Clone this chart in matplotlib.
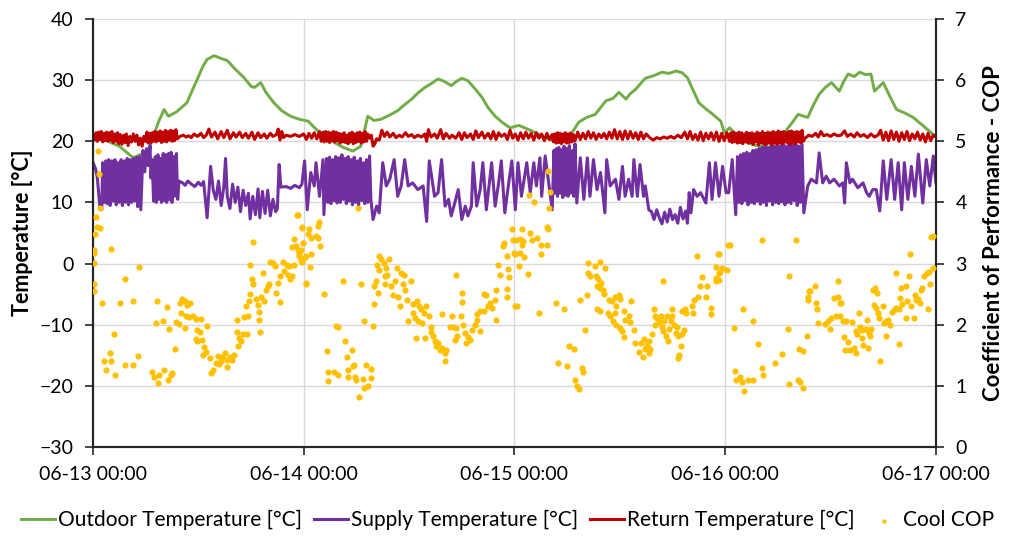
import matplotlib
matplotlib.use("Agg")
import matplotlib.pyplot as plt
import numpy as np

plt.rcParams['font.family'] = ['Lato', 'DejaVu Sans']

# x values are hours since 06-13 00:00
tick_hours = [0, 24, 48, 72, 96]
tick_labels = ['06-13 00:00', '06-14 00:00', '06-15 00:00', '06-16 00:00', '06-17 00:00']

outdoor = [
    (0, 21.1), (1, 20.6), (2, 19.8), (3, 19.2), (4, 18.0), (4.6, 17.3), (5.5, 17.9), (6.4, 18.7),
    (6.9, 20.9), (7.5, 23.3), (8.1, 25.2), (8.6, 24.1), (9.5, 24.8), (10.7, 26.3), (11.3, 28.3),
    (11.9, 30.2), (12.5, 32.2), (13.0, 33.4), (13.8, 34.0), (14.5, 33.6), (15.3, 33.2), (16.2, 31.8),
    (17.2, 30.4), (18.0, 29.0), (18.4, 28.8), (19.1, 29.6), (19.7, 28.0), (20.6, 26.3), (21.5, 25.0),
    (22.5, 24.1), (23.5, 23.6), (24.5, 23.3), (25.6, 21.7), (26.5, 20.8), (27.5, 19.8), (28.5, 19.0),
    (29.6, 18.4), (30.5, 19.2), (31.3, 24.1), (32.0, 23.4), (32.8, 23.6), (33.8, 24.3), (34.7, 25.0),
    (35.5, 26.0), (36.3, 26.9), (37.0, 27.9), (37.8, 28.8), (38.6, 29.5), (39.3, 30.2), (40.0, 29.8),
    (40.8, 29.1), (41.4, 29.8), (42.0, 30.3), (42.7, 29.9), (43.5, 28.6), (44.3, 27.2), (45.0, 25.5),
    (45.8, 24.1), (46.6, 23.1), (47.5, 22.2), (48.5, 22.6), (49.5, 22.0), (50.4, 21.4), (51.5, 20.6),
    (52.6, 20.0), (53.7, 20.6), (54.7, 21.7), (55.3, 23.1), (56.2, 23.9), (57.2, 24.4), (57.8, 25.5),
    (58.4, 26.6), (59.2, 27.0), (59.9, 28.0), (60.7, 26.9), (61.2, 27.8), (61.8, 28.5), (62.4, 29.5),
    (62.9, 30.3), (63.8, 30.7), (64.8, 31.3), (65.6, 31.1), (66.4, 31.5), (67.1, 31.2), (67.7, 30.4),
    (68.3, 28.5), (69.0, 26.3), (69.8, 25.3), (70.6, 24.4), (71.5, 23.3), (71.9, 21.4), (72.5, 22.2),
    (73.6, 20.6), (74.8, 19.6), (75.9, 19.2), (77.4, 19.8), (78.9, 21.7), (79.6, 23.0), (80.3, 24.4),
    (81.4, 23.9), (82.0, 25.8), (82.7, 27.7), (83.4, 28.8), (84.1, 29.6), (85.0, 28.2), (85.5, 29.8),
    (86.0, 31.0), (86.7, 30.6), (87.3, 31.3), (88.0, 30.9), (88.6, 31.0), (89.0, 28.2), (90.0, 29.6),
    (90.7, 27.5), (91.5, 25.2), (92.5, 24.6), (93.4, 23.9), (94.5, 22.6), (95.7, 21.1), (96, 20.8),
]

supply = [
    (0, 16.5), (0.3, 15.5), (0.5, 14), (0.8, 9), (1.0, 8.8),
    (1.1, 16.5), (1.25, 10), (1.45, 16.8), (1.6, 9.8), (1.8, 17), (1.95, 9.5), (2.15, 16.8), (2.3, 10.2),
    (2.5, 17), (2.65, 9.6), (2.85, 16.5), (3.0, 10), (3.2, 17), (3.35, 9.5), (3.55, 16.8), (3.7, 10),
    (3.9, 17.2), (4.05, 9.6), (4.25, 17), (4.4, 10), (4.6, 17.2), (4.75, 10.2), (4.95, 17.4), (5.1, 9.3),
    (5.3, 17.5), (5.45, 8.8), (5.7, 18.5), (5.9, 15), (6.1, 18.8), (6.3, 16), (6.5, 19.3), (6.6, 14),
    (6.75, 17), (6.9, 10.2),
    (7.1, 17.5), (7.2, 10), (7.4, 17.8), (7.5, 10.5), (7.7, 17.2), (7.8, 10), (8.0, 18), (8.1, 10.3),
    (8.3, 17.8), (8.4, 10), (8.6, 18), (8.7, 10.5), (8.9, 18.2), (9.0, 10), (9.2, 17.5), (9.3, 11),
    (9.5, 18), (9.65, 10.5),
    (9.8, 13.5), (10.2, 13.2), (10.5, 12.8), (10.8, 13.5), (11.2, 13), (11.6, 12.6), (12.0, 13.3),
    (12.3, 12.8), (12.6, 13.4), (13.0, 7.5), (13.4, 15.9), (13.7, 12), (14.0, 10.5), (14.3, 13.5),
    (14.6, 9.5), (14.9, 12.5), (15.1, 17.2), (15.3, 11), (15.6, 9), (15.9, 13), (16.2, 10), (16.5, 12.5),
    (16.8, 8.5), (17.1, 12), (17.4, 9.5), (17.7, 11.5), (17.9, 7.3), (18.2, 11), (18.5, 8), (18.8, 12.2),
    (19.0, 7.5), (19.3, 11.8), (19.6, 8.2), (19.9, 12), (20.2, 7.8), (20.5, 10.5), (20.8, 8.5),
    (21.0, 9), (21.2, 16.2), (21.4, 12.5), (22.0, 12.6), (22.5, 12.3), (23.0, 12.8), (23.5, 12.4),
    (23.8, 13), (24.1, 16.8), (24.4, 8.8), (24.8, 14.9), (25.2, 12.7), (25.4, 16.5), (25.8, 11),
    (26.2, 17), (26.3, 8.0),
    (26.6, 17.2), (26.75, 10), (26.95, 17.4), (27.1, 9.8), (27.3, 17), (27.45, 10.3), (27.65, 17.5),
    (27.8, 9.9), (28.0, 17.3), (28.15, 10), (28.35, 17.8), (28.5, 10.5), (28.7, 17.2), (28.85, 9.8),
    (29.05, 17.5), (29.2, 10.2), (29.4, 17), (29.55, 9.6), (29.75, 17.4), (29.9, 10), (30.1, 16.8),
    (30.25, 9.5), (30.45, 17.2), (30.6, 10.3), (30.8, 16.5), (30.95, 9.8), (31.15, 17), (31.3, 10),
    (31.5, 17.6), (31.65, 10.5),
    (31.9, 7.2), (32.3, 9.4), (32.6, 8.3), (33.0, 16.5), (33.4, 12.7), (33.8, 13.8), (34.3, 17.0),
    (34.7, 11.0), (35.1, 12.7), (35.5, 17.0), (35.9, 12.7), (36.4, 13.2), (37.0, 12.1), (37.6, 12.7),
    (38.0, 6.9), (38.3, 16.8), (38.9, 11.0), (39.3, 11.6), (39.7, 17.0), (40.1, 9.4), (40.5, 10.5),
    (40.8, 7.8), (41.2, 9.9), (41.6, 12.1), (42.0, 7.2), (42.4, 9.4), (42.7, 7.8), (43.1, 9.4),
    (43.3, 16.5), (43.7, 9.4), (44.1, 12.1), (44.4, 16.5), (44.8, 8.8), (45.4, 16.5), (45.8, 9.4),
    (46.2, 13.2), (46.5, 16.8), (46.9, 8.3), (47.3, 12.7), (47.7, 16.8), (48.1, 8.8),
    (48.4, 16.5), (48.8, 11.0), (49.4, 16.5), (49.8, 11.6), (50.2, 16.5), (50.5, 12.7), (50.9, 17.3),
    (51.1, 11.0), (51.5, 17.6), (51.9, 13.2), (52.3, 8.8),
    (52.5, 18.5), (52.6, 11.5), (52.75, 18.8), (52.9, 11), (53.05, 19), (53.2, 11.5), (53.35, 18.6),
    (53.5, 10.8), (53.65, 19.2), (53.8, 11.2), (53.95, 18.8), (54.1, 11), (54.25, 19.3), (54.4, 11.5),
    (54.6, 18.5), (54.75, 11), (54.9, 19.6), (55.1, 9.9),
    (55.5, 17.3), (55.9, 10.5), (56.3, 17.3), (56.6, 11.0), (57.0, 17.0), (57.4, 12.1), (57.8, 14.9),
    (58.3, 8.3), (58.5, 17.0), (58.9, 12.7), (59.5, 13.8), (59.9, 10.5), (60.3, 15.9), (60.6, 11.0),
    (61.0, 13.8), (61.4, 11.0), (61.6, 17.0), (62.0, 11.0), (62.3, 16.2), (62.7, 11.0), (62.9, 12.7),
    (63.3, 8.8), (63.6, 8.5), (63.9, 7.2), (64.2, 8.8), (64.5, 7.5), (64.8, 6.5), (65.1, 8.4),
    (65.4, 6.8), (65.7, 8.9), (66.0, 7.2), (66.3, 8), (66.6, 6.6), (66.9, 9.2), (67.2, 7.3), (67.5, 8.6),
    (67.7, 6.6), (67.9, 11.6), (68.1, 8.3), (68.4, 12.1), (68.8, 11.0), (69.2, 11.6), (69.8, 9.9),
    (70.2, 16.5), (70.5, 10.5), (70.9, 16.5), (71.3, 11.0), (71.7, 15.9), (72.1, 11.6), (72.4, 11.6),
    (72.8, 17.0), (73.2, 8.0),
    (73.4, 17.5), (73.55, 10), (73.75, 17.8), (73.9, 9.8), (74.1, 18), (74.25, 10.3), (74.45, 18.2),
    (74.6, 9.6), (74.8, 18), (74.95, 10), (75.15, 18.5), (75.3, 9.8), (75.5, 18.6), (75.65, 10.2),
    (75.85, 18.8), (76.0, 9.7), (76.2, 19), (76.35, 10), (76.55, 19.2), (76.7, 9.5), (76.9, 19),
    (77.05, 10.2), (77.25, 19.4), (77.4, 9.6), (77.6, 19.2), (77.75, 10), (77.95, 19.5), (78.1, 9.8),
    (78.3, 19.3), (78.45, 10.1), (78.65, 19.6), (78.8, 9.6), (79.0, 19.2), (79.15, 10), (79.35, 19.5),
    (79.5, 9.8), (79.7, 19.4), (79.85, 10.3), (80.05, 19.6), (80.2, 9.5), (80.4, 19.2), (80.55, 10),
    (80.75, 19.5), (80.95, 8.3),
    (81.4, 12.7), (81.8, 13.8), (82.4, 13.2), (82.7, 18.1), (83.1, 13.2), (83.5, 14.3), (83.9, 13.2),
    (84.4, 13.8), (85.0, 12.7), (85.4, 13.2), (85.6, 9.9), (85.8, 16.5), (86.2, 13.2), (86.5, 13.8),
    (87.1, 12.4), (87.7, 13.2), (88.1, 11.6), (88.4, 11.0), (88.8, 12.1), (89.2, 12.1), (89.6, 8.6),
    (90.0, 16.8), (90.4, 10.5), (90.9, 17.0), (91.3, 10.5), (91.7, 16.5), (92.1, 8.8), (92.4, 16.5),
    (92.8, 10.5), (93.2, 15.9), (93.6, 11.0), (94.0, 17.9), (94.5, 9.9), (94.9, 17.0), (95.3, 12.7),
    (95.7, 17.6), (96.0, 13.2),
]

ret = [
    (0, 21), (0.2, 20.2), (0.35, 21.4), (0.5, 20), (0.65, 21.5), (0.8, 20.3), (0.95, 21.6), (1.1, 19.9),
    (1.25, 21.3), (1.4, 20.1), (1.55, 21.5), (1.7, 20), (1.85, 21.4), (2.0, 20.2), (2.15, 21.6), (2.3, 19.8),
    (2.5, 21.2), (2.65, 20), (2.8, 21.4), (2.95, 19.6), (3.1, 21.1), (3.3, 19.5), (3.5, 21), (3.65, 19.8),
    (3.8, 21.2), (4.0, 19.3), (4.2, 20.8), (4.4, 19.9), (4.6, 21.2), (4.8, 20), (5.0, 21), (5.2, 19.4),
    (5.4, 20.5), (5.6, 19.2), (5.8, 20.8), (6.0, 20), (6.15, 21.5), (6.3, 19.7), (6.45, 21.3), (6.6, 19.8),
    (6.75, 21.4), (6.9, 20), (7.05, 21.6), (7.2, 19.9), (7.35, 21.5), (7.5, 20.1), (7.65, 21.7), (7.8, 19.8),
    (7.95, 21.5), (8.1, 20), (8.25, 21.8), (8.4, 19.9), (8.55, 21.6), (8.7, 20.2), (8.85, 21.8), (9.0, 20),
    (9.15, 21.7), (9.3, 20.1), (9.45, 21.9), (9.6, 20.4),
    (9.9, 20.8), (10.3, 21), (10.6, 20.7), (10.9, 20.9), (11.2, 20.6), (11.5, 21.2), (11.9, 20.8),
    (12.3, 21.3), (12.6, 20.6), (12.9, 21.0), (13.2, 22.0), (13.5, 20.7), (13.9, 21.5), (14.2, 20.4),
    (14.6, 21.6), (14.9, 20.6), (15.3, 21.8), (15.6, 20.4), (16.0, 21.4), (16.3, 20.7), (16.7, 21.5),
    (17.0, 20.6), (17.4, 21.3), (17.7, 20.5), (18.1, 21.5), (18.4, 20.3), (18.8, 21.4), (19.1, 20.6),
    (19.5, 21.2), (19.8, 20.5), (20.2, 21.3), (20.5, 20.8), (20.9, 21.1), (21.1, 22.0), (21.3, 20.2),
    (21.5, 21.6), (21.7, 20.6), (22.0, 21.0), (22.5, 20.8), (23.0, 21.1), (23.5, 20.8), (24.0, 21.2),
    (24.3, 20.3), (24.6, 21.3), (24.9, 20.5), (25.2, 21.4), (25.5, 20.4), (25.8, 21.6), (26.0, 20),
    (26.2, 21.5), (26.35, 19.9), (26.5, 21.6), (26.65, 20), (26.8, 21.5), (26.95, 19.8), (27.1, 21.4),
    (27.25, 20.1), (27.4, 21.6), (27.55, 19.9), (27.7, 21.5), (27.85, 20.1), (28.0, 21.3), (28.15, 19.7),
    (28.3, 21.2), (28.45, 19.9), (28.6, 21.4), (28.75, 19.8), (28.9, 21), (29.05, 19.6), (29.2, 21.3),
    (29.35, 19.9), (29.5, 21.5), (29.65, 19.6), (29.8, 21.2), (29.95, 19.8), (30.1, 21.4), (30.25, 20),
    (30.4, 21.5), (30.55, 19.7), (30.7, 21.3), (30.85, 19.9), (31.0, 21.6), (31.15, 20), (31.3, 21.2),
    (31.5, 20.5), (31.7, 21), (31.9, 19.2), (32.1, 19.6), (32.3, 20.4), (32.6, 20.2), (32.9, 21.8),
    (33.2, 20.8), (33.5, 21.5), (33.8, 20.7), (34.2, 21.3), (34.5, 20.6), (34.9, 21.0), (35.2, 20.7),
    (35.6, 21.4), (35.9, 20.8), (36.3, 21.1), (36.6, 20.6), (37.0, 21.0), (37.4, 20.7), (37.8, 21.2),
    (38.0, 20.0), (38.2, 21.9), (38.5, 20.7), (38.9, 21.2), (39.2, 20.5), (39.6, 21.9), (39.9, 20.4),
    (40.2, 21.3), (40.6, 20.5), (40.9, 21.0), (41.3, 20.5), (41.7, 21.4), (42.0, 20.3), (42.3, 21.4),
    (42.6, 20.6), (43.0, 21.2), (43.3, 20.3), (43.6, 21.7), (43.9, 20.6), (44.3, 21.5), (44.6, 20.5),
    (45.0, 21.3), (45.3, 20.4), (45.6, 21.6), (45.9, 20.3), (46.2, 21.4), (46.5, 20.8), (46.9, 21.2),
    (47.2, 20.3), (47.5, 21.8), (47.8, 20.5), (48.1, 21.2),
    (48.4, 20.2), (48.7, 21.4), (49.0, 20.4), (49.3, 21.5), (49.6, 20.5), (49.9, 21.3), (50.2, 20.2),
    (50.5, 21.4), (50.8, 20.5), (51.1, 21.2), (51.4, 20.1), (51.7, 21.3), (52.0, 20.3), (52.3, 21.1),
    (52.45, 19.9), (52.6, 21.2), (52.75, 19.7), (52.9, 21.4), (53.05, 19.8), (53.2, 21.3), (53.35, 19.6),
    (53.5, 21.2), (53.65, 19.9), (53.8, 21.4), (53.95, 19.7), (54.1, 21.2), (54.25, 19.8), (54.4, 21.3),
    (54.55, 19.9), (54.7, 21.1), (54.9, 20.1), (55.2, 21.5), (55.5, 20.3), (55.8, 21.3), (56.1, 20.4),
    (56.4, 21.6), (56.7, 20.5), (57.0, 21.4), (57.3, 20.3), (57.6, 21.2), (57.9, 20.6), (58.2, 21.3),
    (58.5, 20.4), (58.8, 21.5), (59.1, 20.5), (59.4, 21.9), (59.7, 20.4), (60.0, 21.6), (60.3, 20.3),
    (60.6, 21.7), (60.9, 20.4), (61.2, 21.6), (61.5, 20.5), (61.8, 21.4), (62.1, 20.3), (62.4, 21.5),
    (62.7, 20.4), (63.0, 21.2), (63.4, 20.6), (63.8, 20.2), (64.2, 20.6), (64.6, 20.4), (65.0, 20.7),
    (65.4, 20.5), (65.8, 20.8), (66.2, 20.5), (66.6, 21.0), (67.0, 20.6), (67.4, 21.5), (67.7, 20.4),
    (68.0, 21.6), (68.3, 20.3), (68.6, 21.1), (68.9, 20.2), (69.2, 21.5), (69.5, 20.1), (69.8, 21.3),
    (70.1, 20.4), (70.4, 21.4), (70.7, 20.2), (71.0, 21.5), (71.3, 20.0), (71.6, 21.3), (71.9, 20.1),
    (72.2, 21.4),
    (72.5, 20.0), (72.65, 21.4), (72.8, 19.8), (72.95, 21.5), (73.1, 19.9), (73.25, 21.3), (73.4, 19.7),
    (73.55, 21.5), (73.7, 19.8), (73.85, 21.4), (74.0, 19.6), (74.15, 21.2), (74.3, 19.9), (74.45, 21.5),
    (74.6, 19.7), (74.75, 21.3), (74.9, 19.8), (75.05, 21.4), (75.2, 19.5), (75.35, 21.2), (75.5, 19.9),
    (75.65, 21.5), (75.8, 19.4), (75.95, 21.3), (76.1, 19.8), (76.25, 21.6), (76.4, 19.6), (76.55, 21.3),
    (76.7, 19.5), (76.85, 21.5), (77.0, 19.8), (77.15, 21.4), (77.3, 19.4), (77.45, 21.6), (77.6, 19.7),
    (77.75, 21.4), (77.9, 19.5), (78.05, 21.7), (78.2, 19.8), (78.35, 21.5), (78.5, 19.6), (78.65, 21.6),
    (78.8, 19.9), (78.95, 21.4), (79.1, 19.7), (79.25, 21.6), (79.4, 19.5), (79.55, 21.7), (79.7, 19.8),
    (79.85, 21.5), (80.0, 19.6), (80.15, 21.6), (80.3, 19.9), (80.45, 21.5), (80.6, 19.7), (80.75, 21.8),
    (80.9, 20.0), (81.1, 20.5),
    (81.5, 21.0), (81.9, 20.8), (82.3, 21.3), (82.6, 20.7), (82.9, 21.6), (83.2, 20.9), (83.6, 21.1),
    (84.0, 20.8), (84.4, 21.2), (84.8, 20.9), (85.2, 21.0), (85.6, 21.7), (85.9, 20.8), (86.3, 21.2),
    (86.7, 20.7), (87.0, 21.4), (87.4, 20.8), (87.8, 21.1), (88.2, 20.6), (88.6, 21.2), (89.0, 20.7),
    (89.4, 21.0), (89.7, 21.8), (90.0, 20.2), (90.3, 21.5), (90.6, 20.1), (90.9, 21.7), (91.2, 20.3),
    (91.5, 21.5), (91.8, 20.0), (92.1, 21.4), (92.4, 20.3), (92.7, 21.6), (93.0, 20.1), (93.3, 21.2),
    (93.6, 20.4), (93.9, 21.5), (94.2, 20.2), (94.5, 21.2), (94.8, 19.9), (95.1, 21.3), (95.4, 20.1),
    (95.7, 21.0), (96.0, 20.7),
]

# Cool COP (right axis)
cop = [
    # day 1
    (0.53, 4.84), (0.65, 4.47), (0.84, 3.91), (0.38, 3.76), (0.46, 3.6), (0.76, 3.58), (0.27, 3.48),
    (0.15, 3.23), (0.15, 3.18), (0.1, 3.01), (0.1, 2.67), (0.1, 2.55), (2.06, 3.24), (1.03, 2.36),
    (3.12, 2.36), (4.57, 2.39), (3.7, 2.75), (5.22, 2.94), (2.36, 1.84), (1.98, 1.54), (1.30, 1.41),
    (2.06, 1.41), (1.52, 1.26), (2.55, 1.18), (3.7, 1.34), (4.57, 1.34), (5.1, 1.49), (6.74, 1.23),
    (6.93, 1.15), (7.51, 1.18), (7.43, 1.04), (8.08, 1.26), (8.53, 1.10), (8.84, 1.18), (9.03, 1.21),
    (9.3, 1.6), (7.32, 2.39), (7.2, 2.03), (8.0, 2.06), (8.38, 2.29), (8.65, 1.93), (9.41, 2.04),
    (9.79, 2.01), (10.48, 1.95), (9.9, 2.36), (10.17, 2.42), (10.44, 2.38), (10.74, 2.33), (11.05, 2.36),
    (10.06, 2.19), (10.55, 2.15), (10.93, 2.13), (11.43, 2.14), (11.7, 2.09), (12.27, 2.09),
    (12.95, 1.98), (11.89, 1.91), (12.15, 1.88), (11.7, 1.77), (11.89, 1.73), (12.46, 1.75),
    (12.65, 1.63), (12.84, 1.56), (12.57, 1.51), (13.33, 1.45), (13.72, 1.26), (13.98, 1.37),
    (14.25, 1.49), (14.55, 1.4), (14.75, 1.48), (15.0, 1.54), (15.24, 1.42), (15.32, 1.31),
    (15.62, 1.47), (15.89, 1.43), (16.08, 1.51), (13.49, 1.21), (14.36, 1.36), (16.38, 1.88),
    (16.65, 1.78), (16.84, 1.73), (16.54, 1.65), (17.03, 1.84), (17.53, 1.84), (16.46, 2.08),
    (17.22, 2.13), (17.68, 2.15), (17.41, 2.3), (17.79, 2.38), (17.9, 2.51), (18.1, 2.74), (18.25, 2.66),
    (17.9, 2.97), (18.17, 3.35), (18.56, 2.42), (18.75, 2.33), (18.86, 2.08), (19.05, 1.88), (18.94, 2.2),
    (19.13, 2.46), (19.32, 2.85), (19.51, 2.38), (19.7, 2.57), (19.89, 2.63), (20.08, 2.66), (20.19, 3.02),
    (20.46, 3.01), (20.73, 2.96), (20.84, 2.52), (21.11, 2.68), (21.34, 2.79), (21.3, 2.37), (21.6, 3.02),
    (21.79, 2.88), (22.1, 2.97), (22.17, 2.82), (22.36, 2.96), (22.48, 2.74), (22.63, 2.8), (22.86, 2.97),
    (22.63, 3.27), (22.86, 3.4), (23.13, 3.28), (23.32, 3.23), (23.51, 3.15), (23.7, 3.04), (23.89, 3.33),
    (23.24, 3.8), (23.77, 3.6), (24.27, 2.68), (24.27, 3.12),
    # day 2
    (23.3, 3.79), (23.76, 3.59), (24.63, 3.57), (24.44, 3.48), (24.82, 3.42), (25.4, 3.45), (25.78, 3.68),
    (25.66, 3.62), (25.59, 3.42), (25.89, 3.29), (23.87, 3.33), (23.68, 3.23), (23.49, 3.12), (24.06, 3.09),
    (24.82, 3.16), (23.76, 3.02), (24.75, 2.94), (24.25, 2.67), (26.35, 2.51), (28.44, 2.71), (30.54, 2.67),
    (30.23, 3.91), (27.68, 1.98), (27.87, 1.96), (28.71, 1.74), (29.47, 1.59), (28.94, 1.48), (26.61, 1.57),
    (26.73, 1.22), (26.81, 1.08), (27.41, 1.22), (27.87, 1.18), (29.09, 1.26), (29.09, 1.14), (29.59, 1.33),
    (29.78, 1.34), (29.97, 1.1), (29.85, 1.14), (30.35, 0.81), (30.73, 1.11), (31.11, 1.34), (31.68, 1.27),
    (30.84, 0.96), (31.3, 1.0), (31.68, 1.13), (30.81, 2.06), (31.87, 1.98), (31.99, 2.34), (32.56, 3.12),
    (32.37, 2.98), (32.83, 3.07), (33.13, 3.01), (33.66, 3.07), (33.4, 2.93), (33.21, 2.79), (33.51, 2.82),
    (32.63, 2.9), (32.25, 2.71), (32.06, 2.63), (32.44, 2.52), (33.28, 2.67), (33.89, 2.63), (34.43, 2.71),
    (34.16, 2.49), (34.65, 2.93), (34.73, 2.46), (35.11, 2.85), (35.42, 2.82), (35.3, 2.66), (35.57, 2.57),
    (36.25, 2.71), (34.92, 2.3), (35.8, 2.41), (35.87, 2.06), (36.44, 2.34), (36.94, 2.38), (37.09, 2.3),
    (37.32, 2.25), (36.44, 2.19), (36.64, 2.11), (37.02, 2.06), (37.51, 2.03), (37.97, 2.31), (37.7, 2.19),
    (38.23, 2.14), (38.46, 1.97), (38.54, 1.88), (37.78, 1.78), (36.83, 1.78), (38.73, 1.81), (38.92, 1.73),
    (39.11, 1.65), (39.3, 1.7), (39.49, 1.59), (39.8, 1.62), (40.06, 1.54), (40.25, 1.59), (40.06, 1.4),
    (39.76, 2.18), (40.9, 2.15), (40.64, 1.96), (41.02, 1.97), (41.4, 1.95), (41.21, 1.75), (41.51, 1.82),
    (41.89, 2.15), (42.16, 2.0), (42.35, 1.86), (42.46, 1.7), (42.73, 1.8), (42.92, 1.75), (43.11, 1.92),
    (43.49, 2.0), (43.68, 2.08), (44.06, 1.89), (43.68, 2.18), (44.06, 2.22), (44.56, 2.22), (45.02, 2.3),
    (45.21, 2.36), (45.4, 2.27), (45.93, 2.08), (41.97, 2.37), (42.08, 2.52), (41.4, 2.82), (44.56, 2.51),
    (44.71, 2.48), (45.78, 2.41), (45.86, 2.57), (46.16, 2.98), (46.35, 2.82), (46.73, 3.29), (46.85, 3.34),
    (47.11, 3.12), (47.3, 2.91), (47.42, 2.78), (47.11, 2.59), (47.11, 2.46), (47.68, 3.57), (47.87, 3.39),
    (47.99, 3.18), (48.07, 2.3),
    # day 3
    (51.87, 4.51), (52.06, 4.17), (51.95, 3.91), (49.66, 4.12), (50.27, 4.0), (48.82, 3.57), (49.78, 3.5),
    (51.68, 3.6), (51.87, 3.56), (48.14, 3.38), (48.63, 3.4), (49.01, 3.37), (50.04, 3.39), (50.54, 3.42),
    (51.03, 3.31), (51.76, 3.31), (48.9, 3.3), (48.63, 3.18), (49.13, 3.11), (48.06, 3.15), (51.03, 3.15),
    (48.52, 2.96), (49.51, 2.83), (48.25, 2.31), (50.8, 2.19), (52.71, 2.36), (53.59, 2.25), (52.94, 1.37),
    (53.97, 1.33), (54.23, 1.65), (54.73, 1.6), (54.92, 1.1), (55.11, 0.99), (55.3, 0.95), (55.68, 1.29),
    (55.76, 1.22), (55.99, 1.91), (55.49, 2.41), (56.25, 2.49), (56.37, 3.01), (57.13, 2.96), (57.78, 3.03),
    (58.27, 2.92), (56.37, 2.85), (56.63, 2.79), (57.28, 2.8), (57.51, 2.74), (57.4, 2.63), (57.89, 2.68),
    (57.78, 2.6), (58.04, 2.57), (58.16, 2.51), (57.4, 2.26), (57.78, 2.22), (58.73, 2.41), (59.11, 2.38),
    (59.42, 2.46), (59.57, 2.3), (59.87, 2.49), (60.06, 2.42), (58.65, 2.19), (58.92, 2.14), (59.42, 2.19),
    (59.19, 2.06), (59.57, 2.0), (60.06, 1.95), (60.25, 1.89), (60.44, 1.8), (60.44, 2.22), (60.64, 2.08),
    (61.02, 2.15), (61.21, 2.04), (61.32, 2.39), (61.59, 1.92), (61.78, 1.7), (62.23, 1.56), (62.46, 1.7),
    (62.62, 1.48), (62.92, 1.6), (63.11, 1.67), (63.3, 1.73), (63.49, 1.6), (63.3, 1.54), (62.73, 1.76),
    (63.68, 1.84), (63.87, 2.25), (64.06, 2.15), (63.99, 2.0), (64.25, 2.11), (64.45, 2.04), (64.64, 2.14),
    (64.83, 1.97), (64.9, 1.89), (65.02, 2.06), (65.21, 1.82), (65.4, 2.14), (65.51, 1.73), (65.59, 1.93),
    (65.78, 2.06), (65.97, 2.25), (65.97, 2.14), (66.16, 2.0), (66.35, 1.86), (66.54, 1.97), (66.65, 1.81),
    (66.73, 1.51), (66.65, 1.45), (66.92, 1.66), (67.04, 1.84), (67.3, 1.92), (67.11, 2.22), (67.42, 2.25),
    (67.57, 2.19), (68.18, 2.3), (68.33, 2.19), (68.45, 2.41), (68.94, 2.46), (69.09, 2.64), (69.4, 2.78),
    (69.78, 2.45), (69.97, 2.63), (70.35, 2.27), (70.35, 2.18), (70.92, 2.71), (71.0, 2.76), (70.92, 2.94),
    (71.3, 2.85), (71.68, 2.93), (72.26, 2.9), (68.83, 3.13), (71.23, 3.15), (72.33, 3.31), (64.94, 2.71),
    # day 4
    (71.3, 3.15), (71.41, 2.86), (71.3, 2.73), (72.52, 3.31), (76.14, 3.38), (80.06, 3.38), (74.04, 2.26),
    (75.11, 2.06), (73.01, 1.95), (75.76, 1.69), (73.13, 1.25), (73.21, 1.09), (73.66, 1.15), (73.89, 1.07),
    (74.16, 0.92), (74.61, 1.09), (75.22, 1.09), (76.18, 1.29), (76.25, 1.18), (77.7, 1.37), (78.46, 1.52),
    (79.3, 1.03), (80.25, 1.09), (80.52, 1.07), (80.83, 0.96), (79.11, 1.93), (80.44, 1.6), (80.83, 1.57),
    (81.28, 1.82), (79.3, 2.79), (81.4, 2.46), (81.51, 2.55), (81.4, 2.4), (81.66, 2.55), (82.27, 2.64),
    (82.35, 2.36), (82.43, 2.25), (82.54, 2.03), (83.42, 2.01), (83.68, 2.06), (84.06, 2.11), (83.95, 1.93),
    (84.64, 2.15), (85.09, 2.14), (85.4, 2.06), (85.78, 2.06), (86.46, 2.04), (84.44, 2.44), (84.83, 2.46),
    (85.02, 2.36), (85.21, 2.36), (84.83, 2.71), (85.51, 1.8), (85.97, 1.71), (85.59, 1.59), (86.16, 1.59),
    (86.62, 1.62), (86.92, 1.54), (86.85, 1.89), (87.0, 1.84), (87.23, 2.19), (87.3, 1.97), (87.61, 1.92),
    (87.61, 1.78), (87.68, 1.67), (88.06, 1.93), (88.14, 2.08), (88.37, 1.86), (88.52, 1.81), (88.64, 1.93),
    (88.25, 1.62), (88.83, 2.57), (89.02, 2.6), (89.28, 2.52), (88.9, 2.33), (89.13, 2.27), (89.4, 2.19),
    (89.51, 2.11), (89.97, 2.3), (90.05, 2.03), (90.27, 2.06), (90.54, 2.08), (90.73, 2.0), (90.35, 1.82),
    (89.59, 1.4), (91.04, 2.2), (91.3, 2.25), (91.49, 2.27), (91.8, 2.26), (91.42, 2.85), (92.06, 2.6),
    (91.95, 2.44), (92.18, 2.34), (92.56, 2.63), (92.71, 2.38), (92.94, 2.8), (93.02, 3.16), (93.21, 2.3),
    (93.59, 2.48), (93.78, 2.41), (93.97, 2.42), (94.16, 2.36), (94.27, 2.57), (94.46, 2.6), (94.62, 2.8),
    (94.99, 2.85), (95.3, 2.66), (95.23, 2.86), (95.61, 2.93), (95.11, 2.25), (91.8, 1.69), (95.49, 3.43),
    (95.68, 3.45), (93.47, 2.11), (92.64, 2.11),
]

outdoor_t, outdoor_v = np.array(outdoor).T
supply_t, supply_v = np.array(supply).T
ret_t, ret_v = np.array(ret).T
cop_t, cop_v = np.array(cop).T

fig = plt.figure(figsize=(10.16, 5.37), dpi=100)
ax = fig.add_axes([0.0915, 0.1676, 0.8297, 0.797])
ax2 = ax.twinx()

l1, = ax.plot(outdoor_t, outdoor_v, color='#70AD47', lw=2.1, label='Outdoor Temperature [°C]')
l2, = ax.plot(supply_t, supply_v, color='#7030A0', lw=2.2, label='Supply Temperature [°C]')
l3, = ax.plot(ret_t, ret_v, color='#C00000', lw=2.2, label='Return Temperature [°C]')
sc = ax2.scatter(cop_t, cop_v, s=20, color='#FFC000', linewidths=0, label='Cool COP', zorder=5)

ax.set_xlim(0, 96)
ax.set_ylim(-30, 40)
ax.set_yticks(range(-30, 41, 10))
ax2.set_ylim(0, 7)
ax2.set_yticks(range(0, 8))
ax.set_xticks(tick_hours)
ax.set_xticklabels(tick_labels)

ax.grid(True, color='#D9D9D9', lw=1)
ax.set_axisbelow(True)

for a in (ax, ax2):
    a.spines['top'].set_visible(False)
    for s in ('left', 'right', 'bottom'):
        a.spines[s].set_color('#262626')
        a.spines[s].set_linewidth(1.5)
ax.tick_params(axis='both', labelsize=14, length=6, width=1.2, color='#262626', pad=8)
ax2.tick_params(axis='y', labelsize=14, length=6, width=1.2, color='#262626', pad=8)

ax.set_ylabel('Temperature [°C]', fontsize=15.5, fontweight='bold', labelpad=5)
ax2.set_ylabel('Coefficient of Performance - COP', fontsize=16, fontweight='bold', labelpad=12)

fig.legend(handles=[l1, l2, l3, sc], loc='lower center', bbox_to_anchor=(0.5, -0.022), ncol=4,
           frameon=False, fontsize=15, handlelength=1.6, handletextpad=0.15, columnspacing=0.6,
           markerscale=0.7)

fig.savefig('out.png', dpi=100)
